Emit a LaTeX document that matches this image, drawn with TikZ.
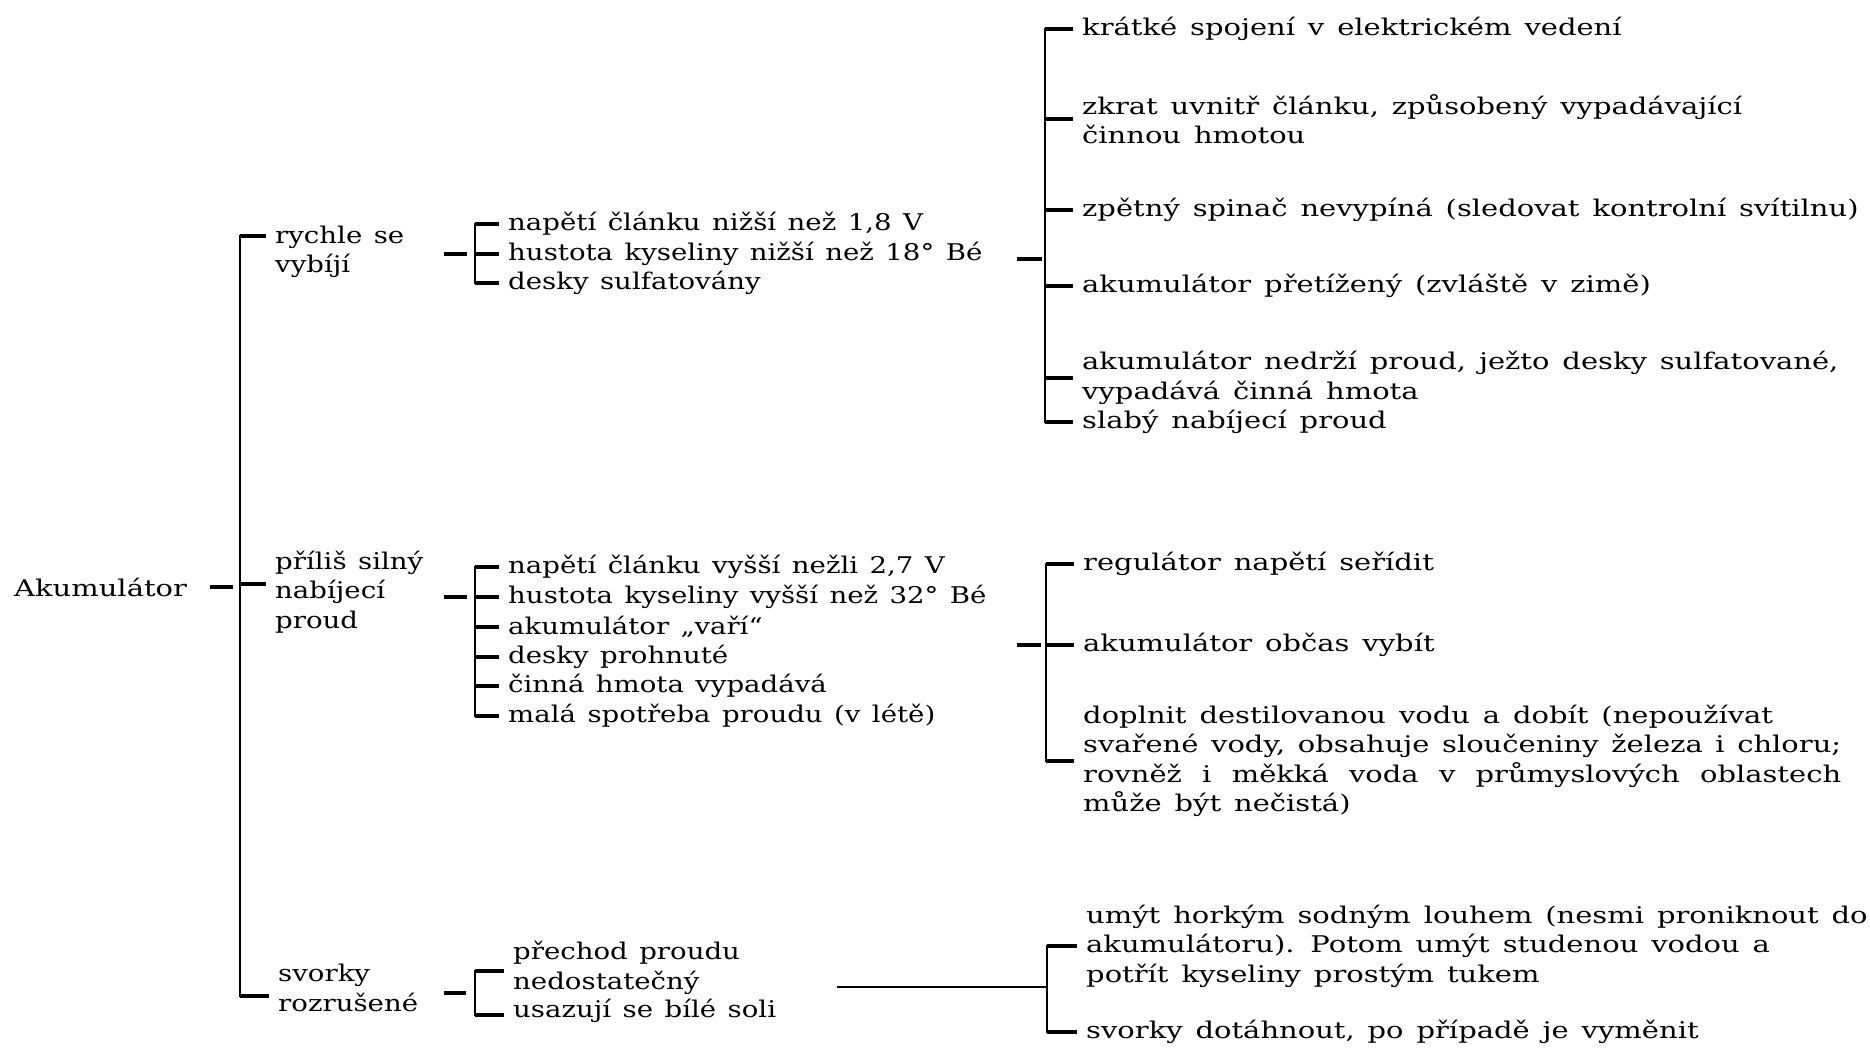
\documentclass[tikz,border=0pt]{standalone}
\usepackage{fontspec}
\setmainfont[FakeStretch=1.2,WordSpace=1.3]{DejaVu Serif}
\newfontfamily\rfont[FakeStretch=1.26,WordSpace=1.4]{DejaVu Serif}
\usetikzlibrary{calc}
\newcommand\diafont{\fontsize{23}{29.5}\selectfont}
\tikzset{
  lbl/.style={anchor=west, inner xsep=9pt, inner ysep=0pt, align=left, font=\diafont},
  rlbl/.style={lbl, font={\rfont\diafont}},
  tick/.style={line width=3.6pt},
  barline/.style={line width=2.6pt, line cap=rect},
}
\begin{document}
\begin{tikzpicture}[x=1pt,y=-1pt]
\useasboundingbox[fill=white] (0,0) rectangle (1870,1049);

% level 1
\node[rlbl] (ak) at (5,587) {Akumulátor};
% level 2
\node[lbl] (ryc) at (266,252) {rychle se\\vybíjí};
\node[lbl] (pri) at (266,592) {příliš silný\\nabíjecí\\proud};
\node[lbl] (svo) at (269,988) {svorky\\rozrušené};

\coordinate (m1a) at (240,236);
\coordinate (m1b) at (240,584);
\coordinate (m1c) at (240,996);
\draw[barline] (m1a) -- (m1c);
\draw[tick] (m1a) -- (m1a -| ryc.west);
\draw[tick] (m1b) -- (m1b -| pri.west);
\draw[tick] (m1c) -- (m1c -| svo.west);
\draw[tick] ($(m1b |- ak.east)+(-30,0)$) -- ++(23,0);

% level 3, group 1
\node[lbl] (a1) at (499,224) {napětí článku nižší než 1,8 V};
\node[lbl] (a2) at (499,254) {hustota kyseliny nižší než 18° Bé};
\node[lbl] (a3) at (499,283) {desky sulfatovány};
\coordinate (g1) at (475,0);
\draw[barline] (g1 |- a1.west) -- (g1 |- a3.west);
\foreach \n in {a1,a2,a3} \draw[tick] (g1 |- \n.west) -- (\n.west);
\draw[tick] ($(g1 |- a2.west)+(-31,0)$) -- ++(23,0);

% level 3, group 2
\node[lbl] (b1) at (499,567) {napětí článku vyšší nežli 2,7 V};
\node[lbl] (b2) at (499,597) {hustota kyseliny vyšší než 32° Bé};
\node[lbl] (b3) at (499,627) {akumulátor „vaří“};
\node[lbl] (b4) at (499,657) {desky prohnuté};
\node[lbl] (b5) at (499,686) {činná hmota vypadává};
\node[lbl] (b6) at (499,716) {malá spotřeba proudu (v létě)};
\coordinate (g2) at (475,0);
\draw[barline] (g2 |- b1.west) -- (g2 |- b6.west);
\foreach \n in {b1,b2,b3,b4,b5,b6} \draw[tick] (g2 |- \n.west) -- (\n.west);
\draw[tick] ($(g2 |- b2.west)+(-31,0)$) -- ++(23,0);

% level 3, group 3
\node[lbl] (c1) at (504,968) {přechod proudu\\nedostatečný};
\node[lbl] (c2) at (504,1011) {usazují se bílé soli};
\coordinate (g3a) at (475,971);
\coordinate (g3b) at (475,1015);
\draw[barline] (g3a) -- (g3b);
\draw[tick] (g3a) -- (g3a -| c1.west);
\draw[tick] (g3b) -- (g3b -| c2.west);
\draw[tick] ($(g3a)!0.5!(g3b)+(-31,0)$) -- ++(22,0);

% level 4, group 1
\node[rlbl] (r1a) at (1073,29) {krátké spojení v elektrickém vedení};
\node[rlbl] (r1b) at (1073,119) {zkrat uvnitř článku, způsobený vypadávající\\činnou hmotou};
\node[rlbl] (r1c) at (1073,210) {zpětný spinač nevypíná (sledovat kontrolní svítilnu)};
\node[rlbl] (r1d) at (1073,286) {akumulátor přetížený (zvláště v zimě)};
\node[rlbl] (r1e) at (1073,378) {akumulátor nedrží proud, ježto desky sulfatované,\\vypadává činná hmota};
\node[rlbl] (r1f) at (1073,422) {slabý nabíjecí proud};
\coordinate (h1) at (1045,0);
\draw[barline] (h1 |- r1a.west) -- (h1 |- r1f.west);
\foreach \n in {r1a,r1b,r1c,r1d,r1e,r1f} \draw[tick] (h1 |- \n.west) -- (\n.west);
\coordinate (h1d) at (1017,259);
\draw[tick] (h1d) -- ++(25,0);

% level 4, group 2
\node[rlbl] (r2a) at (1074,564) {regulátor napětí seřídit};
\node[rlbl] (r2b) at (1074,645) {akumulátor občas vybít};
\node[rlbl, text width=758pt, align=justify] (r2c) at (1074,761) {doplnit destilovanou vodu a dobít (nepoužívat\\svařené vody, obsahuje sloučeniny železa i chloru;\linebreak rovněž i měkká voda v průmyslových oblastech\linebreak může být nečistá)};
\coordinate (h2) at (1046,0);
\draw[barline] (h2 |- r2a.west) -- (h2 |- r2c.west);
\foreach \n in {r2a,r2b,r2c} \draw[tick] (h2 |- \n.west) -- (\n.west);
\draw[tick] ($(h2 |- r2b.west)+(-29,0)$) -- ++(24,0);

% level 4, group 3
\node[rlbl] (r3a) at (1077,946) {umýt horkým sodným louhem (nesmi proniknout do\\akumulátoru). Potom umýt studenou vodou a\\potřít kyseliny prostým tukem};
\node[rlbl] (r3b) at (1077,1032) {svorky dotáhnout, po případě je vyměnit};
\coordinate (h3) at (1047,0);
\draw[barline] (h3 |- r3a.west) -- (h3 |- r3b.west);
\foreach \n in {r3a,r3b} \draw[tick] (h3 |- \n.west) -- (\n.west);
\coordinate (ls) at (838,987);
\draw[barline] (ls) -- (h3 |- ls);
\end{tikzpicture}
\end{document}
